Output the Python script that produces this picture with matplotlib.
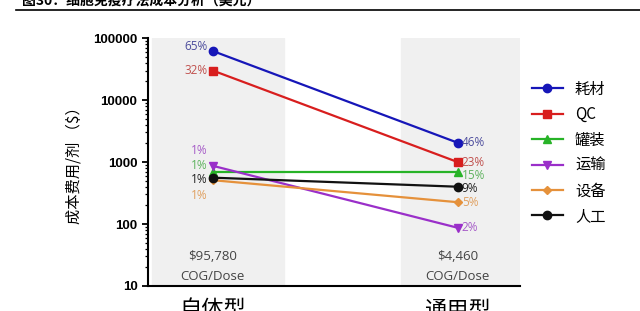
import matplotlib.pyplot as plt
import numpy as np
from matplotlib.lines import Line2D
from matplotlib.ticker import LogLocator, NullFormatter

plt.rcParams['font.family'] = ['Noto Sans CJK SC', 'DejaVu Sans']

categories = ['自体型', '通用型']
totals = ['$95,780', '$4,460']
series = ['耗材', 'QC', '罐装', '运输', '设备', '人工']
left_vals = [62000, 30000, 680, 870, 510, 560]
right_vals = [2050, 1000, 680, 87, 225, 400]
left_pct = ['65%', '32%', '1%', '1%', '1%', '1%']
right_pct = ['46%', '23%', '15%', '2%', '5%', '9%']

colors = ['#1616b8', '#d81e1e', '#27b327', '#9a2fc9', '#e5913b', '#111111']
text_colors = ['#4b4b9c', '#c0504d', '#5fb35f', '#a65cc8', '#e0a060', '#222222']
markers = ['o', 's', '^', 'v', 'D', 'o']
msizes = [6, 6, 6, 6, 4, 6]
left_dy = [3, 0, 5, 11, -11, -1]
right_dy = [0, 0, -2, 0, 0, -1]

fig = plt.figure(figsize=(6.4, 3.11), dpi=100)
ax = fig.add_axes([0.231, 0.0804, 0.581, 0.797])

x = np.array([0, 1])
ax.axvspan(-0.25, 0.29, color='#f0f0f0', zorder=0)
ax.axvspan(0.77, 1.30, color='#f0f0f0', zorder=0)

for i, name in enumerate(series):
    ax.plot(x, [left_vals[i], right_vals[i]], color=colors[i], lw=1.6,
            marker=markers[i], ms=msizes[i], label=name, zorder=3)
    ax.annotate(left_pct[i], (0, left_vals[i]), xytext=(-4, left_dy[i]),
                textcoords='offset points', ha='right', va='center',
                fontsize=8.5, color=text_colors[i], family='Open Sans')
    ax.annotate(right_pct[i], (1, right_vals[i]), xytext=(3, right_dy[i]),
                textcoords='offset points', ha='left', va='center',
                fontsize=8.5, color=text_colors[i], family='Open Sans')

trans = ax.get_xaxis_transform()
for xi, t in zip(x, totals):
    ax.text(xi, 0.118, t, transform=trans, ha='center', va='center',
            fontsize=9.5, color='#444444', family='Open Sans')
    ax.text(xi, 0.04, 'COG/Dose', transform=trans, ha='center', va='center',
            fontsize=9.5, color='#444444', family='Open Sans')

ax.set_yscale('log')
ax.set_ylim(10, 100000)
ax.set_xlim(-0.265, 1.253)
ax.yaxis.set_minor_locator(LogLocator(base=10, subs=np.arange(2, 10)))
ax.yaxis.set_minor_formatter(NullFormatter())
ax.set_yticks([10, 100, 1000, 10000, 100000])
ax.set_yticklabels(['10', '100', '1000', '10000', '100000'],
                   family='Liberation Sans', fontweight='bold', fontsize=9.5)
ax.tick_params(axis='y', which='major', length=4, width=1.3)
ax.tick_params(axis='y', which='minor', length=2.5, width=0.9)
ax.set_xticks(x)
ax.set_xticklabels(categories, fontsize=16)
ax.tick_params(axis='x', length=0, pad=9)

for s in ['top', 'right']:
    ax.spines[s].set_visible(False)
for s in ['left', 'bottom']:
    ax.spines[s].set_linewidth(1.5)

ax.set_ylabel('成本费用/剂 （$）', fontsize=11, labelpad=8)

ax.legend(loc='upper left', bbox_to_anchor=(0.822, 0.76),
          bbox_transform=fig.transFigure, frameon=False, fontsize=11,
          handlelength=2.0, labelspacing=0.55, handletextpad=0.8,
          borderaxespad=0)

fig.text(0.035, 0.975, '图30：细胞免疫疗法成本分析（美元）', fontsize=10,
         fontweight='bold', va='bottom', ha='left')
fig.add_artist(Line2D([0.025, 1.0], [0.968, 0.968], color='black', lw=1.2,
                      transform=fig.transFigure))

fig.savefig('out.png', dpi=100)
